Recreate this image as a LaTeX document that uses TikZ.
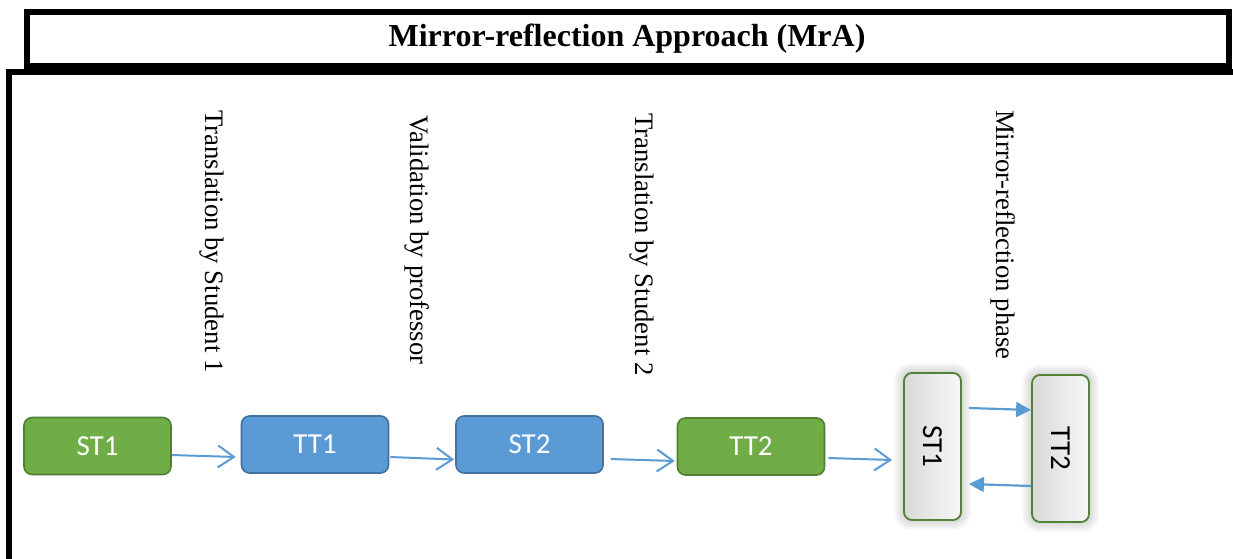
\documentclass[tikz,border=0pt]{standalone}
\usepackage{fontspec}
\setmainfont{Liberation Serif}
\newfontfamily\boxfont{Carlito}
\usetikzlibrary{arrows.meta,backgrounds}
\definecolor{gfill}{HTML}{70AD47}
\definecolor{gline}{HTML}{507E32}
\definecolor{bfill}{HTML}{5B9BD5}
\definecolor{bline}{HTML}{41719C}
\definecolor{vline}{HTML}{548235}
\definecolor{arrcol}{HTML}{5B9BD5}
\tikzset{
  frameline/.style={line width=6pt,black},
  hbox/.style={rounded corners=8pt,line width=1.6pt,minimum width=147pt,minimum height=57pt,inner sep=0pt,text=white,font=\boxfont\fontsize{29}{34}\selectfont},
  greenbox/.style={hbox,fill=gfill,draw=gline},
  bluebox/.style={hbox,fill=bfill,draw=bline},
  vbox/.style={rounded corners=8pt,line width=1.8pt,draw=vline,minimum width=57pt,minimum height=147pt,inner sep=0pt,
    left color=black!15,middle color=white,right color=black!3,font=\boxfont\fontsize{29}{34}\selectfont},
  vlabel/.style={rotate=-90,anchor=west,inner sep=0pt,font=\fontsize{26.7}{31}\selectfont},
  openarr/.style={draw=arrcol,line width=2pt,-{Straight Barb[length=16pt,width=22pt,line width=2pt]}},
  fillarr/.style={draw=arrcol,line width=2.2pt,-{Triangle[length=15pt,width=15pt]}}
}
\begin{document}
\begin{tikzpicture}[x=1pt,y=-1pt]
\useasboundingbox (0,0) rectangle (1233,558);
\begin{scope}
\clip (0,0) rectangle (1233,558);
\draw[frameline] (1240,72) -| (9,570);
\end{scope}
\draw[frameline] (27,12) rectangle (1229,66);
\node[inner sep=0pt,font=\bfseries\fontsize{32}{37}\selectfont] (title) at (627,39) {Mirror-reflection Approach (MrA)};

\node[vlabel] (l1) at (212,110) {Translation by Student 1};
\node[vlabel] (l2) at (417,115) {Validation by professor};
\node[vlabel] (l3) at (642,113) {Translation by Student 2};
\node[vlabel] (l4) at (1003,110) {Mirror-reflection phase};

\node[greenbox] (st1) at (97.5,446) {ST1};
\node[bluebox] (tt1) at (315,444.5) {TT1};
\node[bluebox] (st2) at (529.5,444.5) {ST2};
\node[greenbox] (tt2) at (751,446.5) {TT2};
\node[vbox] (st1v) at (932.5,446.5) {\rotatebox{-90}{ST1}};
\node[vbox] (tt2v) at (1060.5,448.5) {\rotatebox{-90}{TT2}};

\begin{scope}[on background layer]
\foreach \n in {st1v,tt2v}{
  \foreach \i/\r in {1/9,3/11,5/13,7/15,9/17}{
    \fill[black,opacity=0.03,rounded corners=\r pt]
      ([shift={(-\i,-\i)}]\n.north west) rectangle ([shift={(\i,\i)}]\n.south east);
  }
}
\end{scope}

\draw[openarr] ([yshift=-9pt]st1.east) -- ([xshift=-5pt,yshift=-12.5pt]tt1.west);
\draw[openarr] ([xshift=1pt,yshift=-12.5pt]tt1.east) -- ([xshift=-1pt,yshift=-15pt]st2.west);
\draw[openarr] ([xshift=7pt,yshift=-14.5pt]st2.east) -- ([xshift=-2pt,yshift=-14.5pt]tt2.west);
\draw[openarr] ([xshift=3pt,yshift=-11.5pt]tt2.east) -- ([xshift=-11pt,yshift=-13.5pt]st1v.west);
\draw[fillarr] ([xshift=7pt,yshift=38.5pt]st1v.east) -- ([yshift=38.5pt]tt2v.west);
\draw[fillarr] ([yshift=-37.5pt]tt2v.west) -- ([xshift=7pt,yshift=-37.5pt]st1v.east);
\end{tikzpicture}
\end{document}
